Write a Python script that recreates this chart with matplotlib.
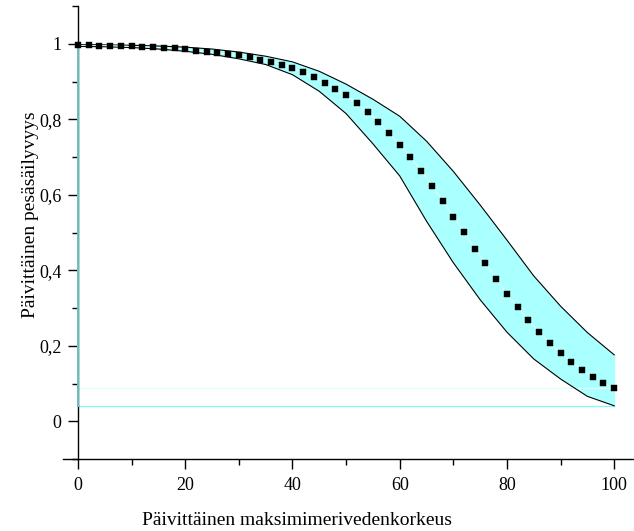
import numpy as np
import matplotlib
matplotlib.use("Agg")
import matplotlib.pyplot as plt
from matplotlib.ticker import MultipleLocator, FuncFormatter

# ---- data ----
x_center = list(range(0, 101, 2))
y_center = [0.996, 0.996, 0.995, 0.995, 0.994, 0.993, 0.992, 0.991, 0.989, 0.988,
            0.986, 0.982, 0.978, 0.975, 0.972, 0.969, 0.964, 0.958, 0.952, 0.944,
            0.935, 0.924, 0.912, 0.897, 0.880, 0.863, 0.843, 0.820, 0.792, 0.764,
            0.733, 0.699, 0.664, 0.624, 0.584, 0.541, 0.502, 0.457, 0.420, 0.377,
            0.337, 0.303, 0.268, 0.236, 0.207, 0.181, 0.158, 0.136, 0.117, 0.101,
            0.087]

x_band = [0, 5, 10, 15, 20, 25, 30, 35, 40, 45, 50, 55, 60, 65, 70, 75, 80, 85, 90, 95, 100]
y_upper = [0.998, 0.997, 0.996, 0.994, 0.991, 0.986, 0.978, 0.967, 0.952, 0.927,
           0.893, 0.853, 0.808, 0.742, 0.662, 0.573, 0.480, 0.385, 0.305, 0.235, 0.176]
y_lower = [0.993, 0.992, 0.990, 0.986, 0.980, 0.972, 0.960, 0.945, 0.918, 0.874,
           0.815, 0.735, 0.650, 0.530, 0.420, 0.322, 0.236, 0.165, 0.112, 0.066, 0.041]

xlabel = "Päivittäinen maksimimerivedenkorkeus"
ylabel = "Päivittäinen pesäsäilyvyys"

# ---- figure ----
W, H = 634, 531
fig = plt.figure(figsize=(W / 100, H / 100), dpi=100)
plt.rcParams['font.family'] = ['Liberation Serif', 'DejaVu Serif']

left_px, right_px, bottom_px, top_px = 63, 634, 459, 6
ax = fig.add_axes([left_px / W, 1 - bottom_px / H, (right_px - left_px) / W, (bottom_px - top_px) / H])
ax.set_xlim(-2.8, 103.7)
ax.set_ylim(-0.1, 1.1)

for s in ['top', 'right']:
    ax.spines[s].set_visible(False)
ax.spines['left'].set_position(('data', 0))
ax.spines['left'].set_linewidth(1.0)
ax.spines['bottom'].set_linewidth(1.0)

# band
ax.fill_between(x_band, y_lower, y_upper, facecolor='#aaffff', edgecolor='none', zorder=2)
ax.plot(x_band, y_upper, color='black', lw=0.8, zorder=3)
ax.plot(x_band, y_lower, color='black', lw=0.8, zorder=3)
ax.plot([x_band[-1], x_band[-1]], [y_lower[-1], y_upper[-1]], color='#aaffff', lw=1, zorder=2)

# polygon edge artifacts
ax.plot([x_band[0], x_band[-1]], [y_lower[-1], y_lower[-1]], color='#8ff5f5', lw=1.0, zorder=2)
ax.plot([x_center[0], x_center[-1]], [y_center[-1], y_center[-1]], color='#dcffff', lw=1.0, zorder=2)
ax.plot([x_band[0], x_band[0]], [y_lower[-1], y_center[0]], color='#66c4c4', lw=1.4, zorder=4, clip_on=False)

# center
ax.plot(x_center, y_center, color='#e6ffff', lw=0.6, zorder=4)
ax.plot(x_center, y_center, linestyle='none', marker='s', markersize=3.9,
        markerfacecolor='black', markeredgecolor='black', markeredgewidth=0.3, zorder=5)

# ticks
ax.set_xticks([0, 20, 40, 60, 80, 100])
ax.xaxis.set_minor_locator(MultipleLocator(10))
ax.set_yticks([0, 0.2, 0.4, 0.6, 0.8, 1.0])
ax.set_yticks([-0.1, 0.1, 0.3, 0.5, 0.7, 0.9, 1.1], minor=True)

def yfmt(v, pos):
    s = ('%.1f' % v).rstrip('0').rstrip('.')
    return s.replace('.', ',')
ax.yaxis.set_major_formatter(FuncFormatter(yfmt))

ax.tick_params(which='major', direction='out', length=7, width=1.0, labelsize=13, pad=5)
ax.tick_params(which='minor', direction='out', length=4, width=1.0)
ax.tick_params(axis='x', which='major', pad=6)

fig.text(297 / W, 1 - 525 / H, xlabel, ha='center', va='baseline', fontsize=14)
fig.text(31 / W, 1 - 215 / H, ylabel, ha='center', va='center', rotation=90, fontsize=14)

fig.savefig('out.png', dpi=100)
